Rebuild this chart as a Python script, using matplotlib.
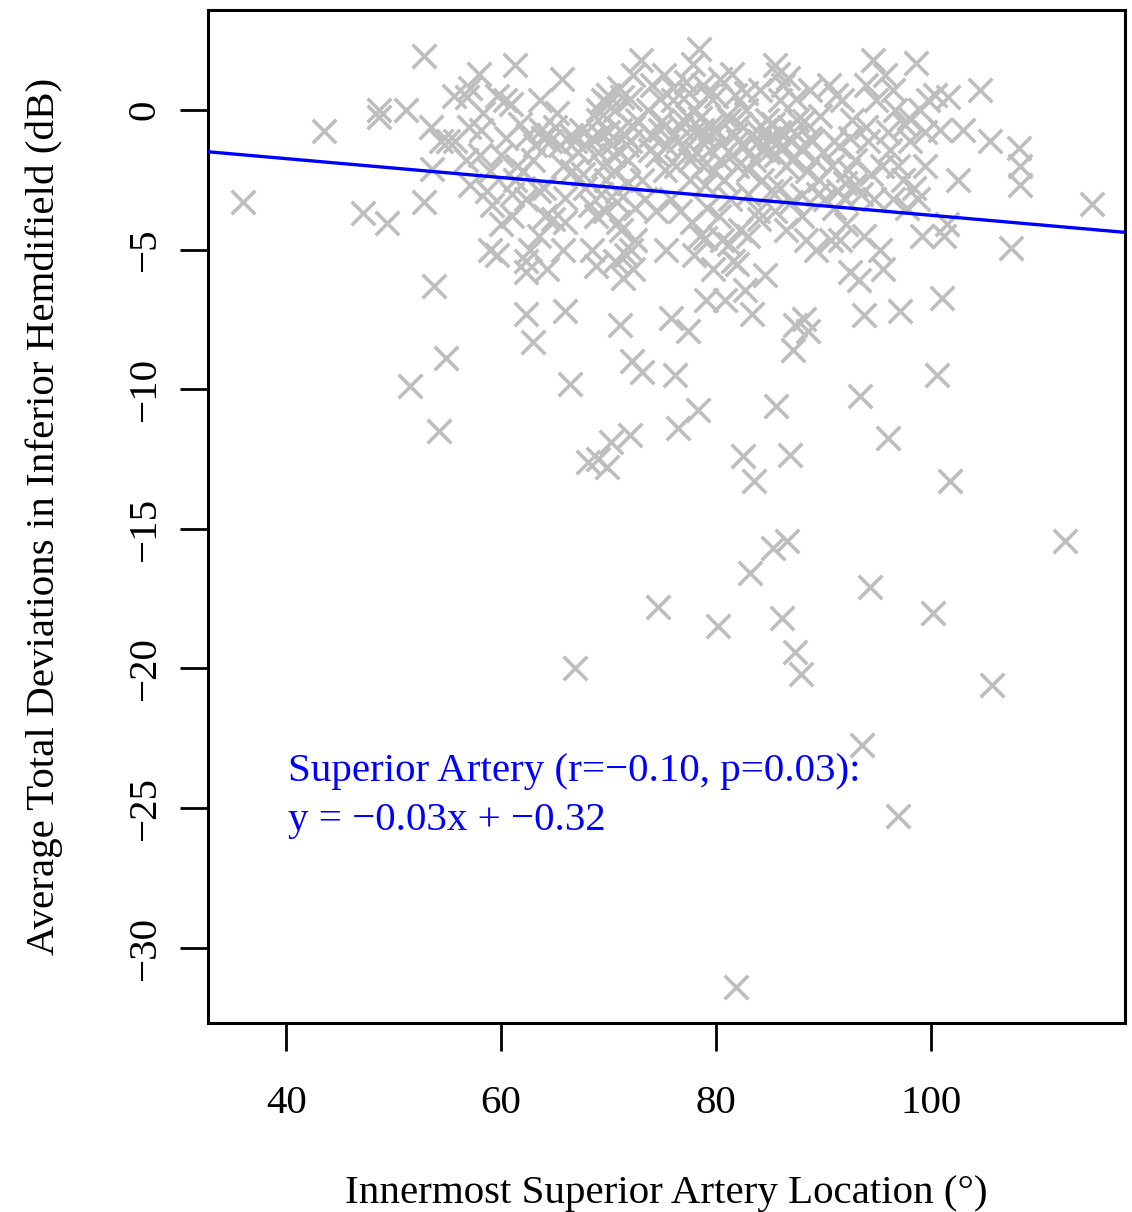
import matplotlib.pyplot as plt
import numpy as np

# innermost superior artery location (deg) vs avg total deviation (dB)
loc = [
    36.0, 43.5, 47.1, 48.6, 48.6, 49.4, 51.1, 51.5, 52.8, 52.8, 53.5, 53.6, 53.8, 54.2, 54.9,
    54.4, 55.1, 55.6, 56.8, 57.1, 57.9,
    55.7, 56.7, 57.1, 58.1, 58.3, 58.7, 59.0, 59.2, 59.6, 59.6, 60.0, 60.0,
    60.4, 60.9, 61.3, 61.3, 61.0, 61.8, 62.0, 62.3, 62.3, 62.3, 62.3, 62.7, 63.0, 63.2, 63.5,
    63.6, 63.7, 63.9, 64.1, 64.3, 64.4, 64.6, 64.8,
    65.2, 65.5, 65.7, 66.0, 65.8, 66.0, 66.4, 66.6, 66.9, 66.9, 67.4, 67.6, 67.8, 68.1, 68.3,
    68.5, 68.8, 69.0, 69.0, 69.2, 69.5, 69.7, 69.8, 69.9, 70.0,
    70.2, 70.4, 70.6, 70.8, 70.9, 71.1, 71.3, 71.1, 71.6, 71.7, 71.8, 72.0, 72.2, 72.3, 72.3,
    72.5, 72.7, 73.0, 73.1, 73.1, 73.4, 73.7, 73.9, 74.1, 74.4, 74.6, 74.8,
    75.2, 75.3, 75.4, 75.8, 76.0, 76.2, 76.5, 76.5, 76.7, 76.9, 77.2, 77.4, 77.6, 77.9, 78.1,
    78.3, 78.4, 78.5, 78.7, 79.0, 79.1, 79.3, 79.5, 79.7,
    80.2, 80.4, 80.4, 80.6, 80.9, 81.2, 81.3, 81.6, 81.8, 81.9, 82.1, 82.3, 82.5, 82.7, 82.8,
    83.0, 83.2, 83.4, 83.6, 83.7, 83.9, 84.1, 84.3, 84.6, 84.8,
    85.1, 85.3, 85.5, 85.6, 85.8, 86.0, 86.2, 86.5, 86.6, 86.7, 86.9, 87.1, 87.2, 87.4, 87.4,
    87.6, 87.9, 88.0, 88.2, 88.4, 88.6, 88.8, 89.0, 89.3, 89.6, 89.7,
    90.2, 90.5, 90.7, 91.0, 91.2, 91.4, 91.6, 91.8, 92.1, 92.3, 92.5, 92.7, 93.0, 93.3, 93.4,
    93.6, 93.8, 94.0, 94.2, 94.4, 94.6, 94.7, 94.9,
    95.3, 95.6, 95.8, 96.0, 96.2, 96.5, 96.7, 97.0, 97.2, 97.4, 97.6, 98.1, 98.6, 98.8, 99.0,
    99.2, 99.5, 99.8,
    100.2, 100.4, 100.6, 100.9, 101.1, 101.3, 101.5, 101.6, 101.8, 102.6, 103.0, 104.6, 105.5,
    105.7, 107.5, 108.2, 108.3, 108.3, 112.5, 115.0,
    # dense core
    68.5, 69.0, 69.5, 70.0, 70.3, 70.5, 71.0, 71.5, 71.8, 72.0, 72.3, 68.8, 69.3, 70.8, 71.2,
    72.5, 70.0, 71.0, 69.0, 72.0, 70.6, 72.1, 71.4,
    74.0, 74.5, 75.0, 75.5, 76.0, 76.3, 76.8, 77.0, 77.3, 77.6, 78.0, 78.2, 78.5, 78.8, 79.0,
    79.2, 79.5, 79.8, 77.5, 78.8, 76.0, 74.8, 75.8, 77.8, 78.0, 79.0,
    80.0, 80.5, 80.8, 81.0, 81.5, 81.8, 82.0, 82.3, 82.6, 83.0, 83.3, 83.6, 84.0, 84.3, 84.6,
    84.9, 80.3, 81.2, 82.0, 83.0, 84.0, 82.8, 81.5, 80.0,
    85.0, 85.3, 85.6, 85.9, 86.2, 86.5, 86.8, 87.0, 87.3, 87.6, 87.9, 88.2, 88.5, 88.8, 89.2,
    86.0, 87.0, 85.5, 88.0, 86.3, 87.5, 89.5, 85.8,
    90.0, 90.8, 91.5, 92.0, 92.5, 93.0, 93.5, 94.0, 94.5, 91.0, 92.0, 93.8,
    60.5, 61.5, 62.5, 63.0, 64.0, 65.0, 65.8, 66.5, 67.2, 67.8, 66.0, 63.5, 61.0, 59.0, 58.0,
    57.0,
    96.0, 97.0, 98.0, 98.5, 99.5, 96.5, 97.8, 95.5,
]
dev = [
    -3.3, -0.75, -3.7, 0.0, -0.25, -4.05, 0.0, -9.9, 1.95, -3.3, -0.6, -2.1, -6.3, -11.5, -8.9,
    -1.1, -1.1, 0.5, 0.47, 0.8, 1.3,
    -1.1, -1.8, -2.7, -0.7, -0.1, -2.9, -5.0, -3.4, 0.5, -5.2, -1.6, -4.1,
    0.35, 0.2, 1.6, -2.5, -3.8, -0.5, -2.2, -3.2, -5.4, -5.8, -7.3, -5.0, -8.3, -1.25, -2.9,
    0.35, -0.7, -1.0, -3.8, -5.7, -0.9, -1.1, -3.9,
    -0.1, -1.25, 1.1, -3.15, -5.0, -7.2, -9.8, -2.2, -20.0, -1.1, -0.7, -2.3, -1.25, -12.6, -3.4,
    -5.0, -5.6, -0.35, -12.5, -0.9, 0.35, -3.6, -2.5, -12.8, 0.55,
    -11.9, -1.6, 0.0, -2.9, -4.0, -0.7, 0.47, -7.7, -5.2, -1.25, -1.8, -11.65, -9.0, -5.7, 1.25,
    -4.65, -0.35, 1.8, -9.4, -2.5, -3.2, 0.0, -1.45, 0.9, -3.6, -17.8, -0.7,
    1.25, -2.15, -5.0, -7.45, 0.35, -9.5, -11.4, -1.1, -3.6, -0.35, 1.0, -7.9, -1.8, 1.65, 0.0,
    -10.75, 2.2, -4.5, -0.7, -2.7, -6.8, 0.55, -1.45, -5.7,
    -18.5, 1.1, -1.8, -4.65, -6.8, -0.35, -3.2, -5.4, 0.55, -31.4, -1.1, -4.3, -12.4, -6.45, 0.0,
    -2.15, -16.6, -7.3, -13.3, -0.7, -3.6, 0.7, -1.45, -5.9, -0.35,
    -2.9, -15.7, 1.6, -10.6, -1.1, 0.35, -18.2, -4.3, -15.45, 1.15, -12.35, -1.8, -8.6, -7.7, -19.4,
    -0.35, -20.2, -3.05, -7.5, -4.65, -7.9, 0.7, -1.1, -5.0, -2.5, -0.2,
    -3.2, 0.9, -4.65, -1.1, 0.55, -2.9, -4.65, 0.35, -4.1, -2.15, -5.8, -0.35, -2.7, -6.1, -10.25,
    -22.75, -7.35, 0.9, -1.1, -17.1, 1.8, -3.2, 0.35,
    -5.0, -5.7, 1.25, -11.75, -1.45, -3.2, 0.0, -25.3, -7.2, -2.5, -0.55, -1.1, 1.7, -3.2, 0.0,
    -4.5, -2.0, 0.35,
    -18.0, 0.55, -9.5, -0.7, -6.75, -4.5, -4.1, 0.45, -13.3, -2.5, -0.7, 0.7, -1.1,
    -20.6, -4.95, -1.35, -2.0, -2.7, -15.45, -3.35,
    # dense core
    -1.0, -1.5, -2.0, -0.8, -1.2, -2.2, -1.5, -0.9, -2.6, -1.1, -0.6, -3.8, -3.0, -3.3, -4.3,
    -3.5, 0.2, 0.8, 0.0, 0.4, -5.4, -5.0, -6.0,
    -0.9, -1.6, -0.4, -1.3, -0.9, -2.0, -0.6, -1.4, -0.2, -2.5, -0.8, -1.5, -0.3, -2.0, -1.0,
    -3.5, -0.6, -2.2, 0.6, 0.9, 0.8, 0.4, -3.2, -4.0, -5.2, -4.6,
    -0.7, -1.2, -2.5, -0.2, -1.6, -0.9, -2.0, -0.5, -1.3, -3.0, -0.9, -1.8, -1.1, -2.5, -0.7,
    -1.5, -3.8, -4.8, -5.5, -4.5, -3.9, 0.6, 1.3, 0.5,
    -1.0, -0.5, -1.6, -0.8, -1.3, -2.0, -0.6, -1.1, -1.7, -0.9, -1.4, -0.4, -2.2, -1.0, -1.8,
    -2.8, -3.3, -3.6, -3.8, 0.9, 0.4, -3.0, 1.3,
    -1.5, -2.0, -1.3, -2.6, -1.0, -1.8, -3.0, -0.6, -2.3, -3.5, -3.2, -4.5,
    -1.0, -2.0, -0.9, -1.8, -2.8, -0.6, -2.0, -0.9, -1.5, -2.8, -4.0, -4.5, -3.0, -2.2, -1.6,
    -0.6,
    -0.8, -2.0, -0.3, -2.8, -0.8, 0.7, -3.5, -2.0,
]

# fitted line
slope = -0.0338
intercept = -0.39

plt.rcParams['font.family'] = ['Liberation Serif', 'DejaVu Serif']

fig = plt.figure(figsize=(11.32, 12.12), dpi=100)
ax = fig.add_axes([0.1837, 0.156, 0.81, 0.8357])

ax.scatter(loc, dev, marker='x', s=290, color='#bebebe', linewidths=2.6, zorder=2)
ax.axline((0, intercept), slope=slope, color='blue', lw=2.4, zorder=3)

ax.set_xlim(32.7, 118.1)
ax.set_ylim(-32.7, 3.58)
ax.set_xticks([40, 60, 80, 100])
ax.set_yticks([0, -5, -10, -15, -20, -25, -30])
ax.set_yticklabels(['0', '\u22125', '\u221210', '\u221215', '\u221220', '\u221225', '\u221230'],
                   rotation=90, va='center')
ax.tick_params(labelsize=29.5, length=20, width=2, pad=25)
ax.tick_params(axis='y', pad=12)
for s in ax.spines.values():
    s.set_linewidth(2.2)

ax.set_xlabel('Innermost Superior Artery Location (\u00b0)', fontsize=29.5, labelpad=38)
ax.set_ylabel('Average Total Deviations in Inferior Hemdifield (dB)', fontsize=29.5, labelpad=46)

ax.text(40.2, -23.7, 'Superior Artery (r=\u22120.10, p=0.03):', color='blue',
        fontsize=29.5, va='center', ha='left')
ax.text(40.2, -25.45, 'y = \u22120.03x + \u22120.32', color='blue',
        fontsize=29.5, va='center', ha='left')

fig.savefig('out.png', dpi=100)
